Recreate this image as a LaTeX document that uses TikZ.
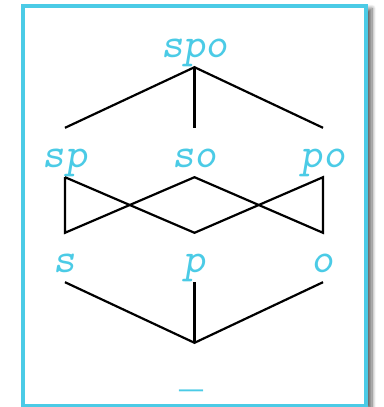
\documentclass[tikz,border=0pt]{standalone}
\usepackage{fontspec}
\usepackage{tikz}
\usetikzlibrary{shadows.blur}
\newfontfamily\barfont{Liberation Mono}
\definecolor{sky}{HTML}{4BCBE6}
\definecolor{ink}{HTML}{000000}

\begin{document}
\begin{tikzpicture}[x=1pt,y=-1pt,
  lab/.style={anchor=base,inner sep=0pt,text height=39pt,text depth=10pt,
    text=sky,font=\ttfamily\slshape\fontsize{42}{44}\selectfont},
  edge/.style={ink,line width=2.2pt}]
 \useasboundingbox (0,0) rectangle (383,407);
 \draw[sky,line width=4pt,fill=white,
   blur shadow={shadow xshift=6pt,shadow yshift=-3pt,shadow opacity=60,shadow blur steps=8,shadow blur radius=4pt}]
   (22.5,5.5) rectangle (366,405.5);
 \node[lab] (spo) at (194.5,57) {spo};
 \node[lab] (sp) at (65,167) {sp};
 \node[lab] (so) at (194.5,167) {so};
 \node[lab] (po) at (323,167) {po};
 \node[lab] (s) at (65,272) {s};
 \node[lab] (p) at (194.5,272) {p};
 \node[lab] (o) at (323,272) {o};
 \node[lab,text height=44pt,font=\barfont\fontsize{40}{44}\selectfont] (bot) at (191.5,387) {\_};
 \draw[edge] (sp.north) -- (spo.south) -- (po.north);
 \draw[edge] (spo.south) -- (so.north);
 \draw[edge] (sp.south) -- (s.north) -- (so.south) -- (o.north) -- (po.south) -- (p.north) -- (sp.south);
 \draw[edge] (s.south) -- (p.south |- bot.north) -- (o.south);
 \draw[edge] (p.south) -- (p.south |- bot.north);
\end{tikzpicture}
\end{document}
